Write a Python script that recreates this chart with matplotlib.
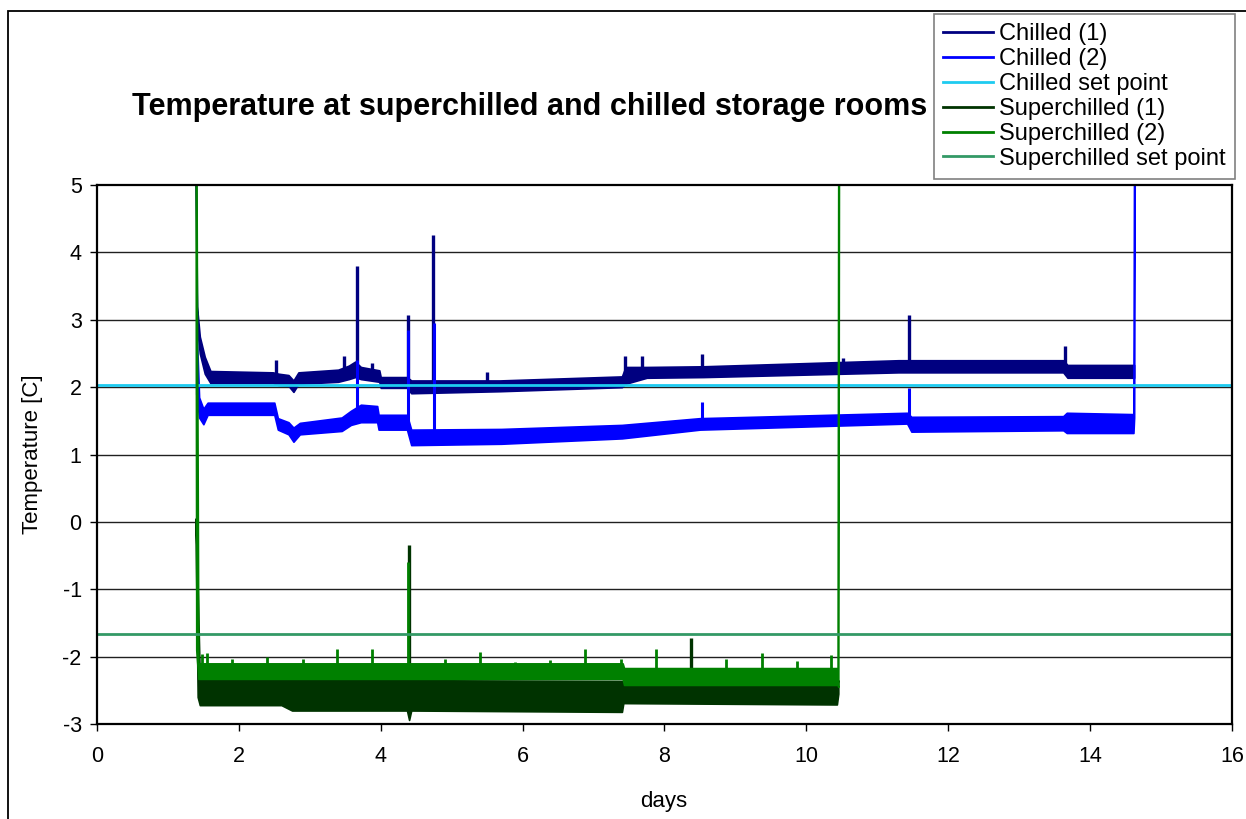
import matplotlib
matplotlib.use("Agg")
import matplotlib.pyplot as plt
from matplotlib.lines import Line2D
from matplotlib.patches import Rectangle

plt.rcParams['font.family'] = ['Liberation Sans', 'DejaVu Sans']
plt.rcParams['axes.unicode_minus'] = False

# Chilled (1): envelope of the logged band (day, low, high)
c1_days = [1.39, 1.41, 1.45, 1.52, 1.60, 2.48, 2.56, 2.70, 2.77, 2.84, 3.40, 3.55, 3.64,
           3.72, 3.98, 4.00, 4.37, 4.43, 5.68, 7.40, 7.45, 7.75, 8.55, 11.30, 13.62, 13.68, 14.62]
c1_low = [5.3, 2.9, 2.5, 2.2, 2.06, 2.06, 2.03, 2.02, 1.93, 2.05, 2.08, 2.12, 2.15,
          2.12, 2.08, 1.99, 1.99, 1.91, 1.94, 2.00, 2.05, 2.14, 2.15, 2.22, 2.22, 2.14, 2.14]
c1_high = [6.0, 3.2, 2.75, 2.45, 2.24, 2.22, 2.20, 2.18, 2.10, 2.22, 2.26, 2.32, 2.38,
           2.30, 2.25, 2.15, 2.15, 2.10, 2.10, 2.16, 2.30, 2.30, 2.31, 2.40, 2.40, 2.33, 2.33]
c1_spike_days = [2.52, 3.48, 3.67, 3.88, 4.39, 4.74, 5.50, 7.44, 7.68, 8.53, 10.52, 11.45, 13.65]
c1_spike_base = [2.10, 2.15, 2.20, 2.15, 2.05, 2.00, 2.00, 2.10, 2.15, 2.20, 2.25, 2.28, 2.25]
c1_spike_peaks = [2.40, 2.47, 3.80, 2.36, 3.07, 4.26, 2.22, 2.46, 2.46, 2.49, 2.44, 3.07, 2.61]

# Chilled (2)
c2_days = [1.40, 1.44, 1.50, 1.56, 2.50, 2.55, 2.70, 2.77, 2.86, 3.45, 3.58, 3.72, 3.95,
           3.97, 4.37, 4.43, 5.70, 7.40, 8.50, 11.42, 11.48, 13.62, 13.67, 14.61, 14.62, 14.63]
c2_low = [1.9, 1.55, 1.45, 1.59, 1.59, 1.37, 1.30, 1.19, 1.30, 1.35, 1.44, 1.48, 1.48,
          1.37, 1.37, 1.14, 1.16, 1.24, 1.37, 1.46, 1.34, 1.36, 1.32, 1.32, 1.55, 6.0]
c2_high = [3.0, 1.85, 1.68, 1.77, 1.77, 1.54, 1.48, 1.40, 1.47, 1.55, 1.65, 1.74, 1.72,
           1.59, 1.59, 1.37, 1.38, 1.44, 1.54, 1.62, 1.56, 1.57, 1.62, 1.60, 6.0, 6.0]
c2_spike_days = [3.66, 4.39, 4.75, 8.53, 11.45]
c2_spike_base = [1.50, 1.45, 1.25, 1.45, 1.50]
c2_spike_peaks = [2.40, 2.85, 2.95, 1.78, 1.99]

# Superchilled (1)
s1_days = [1.39, 1.42, 1.45, 2.60, 2.75, 4.37, 4.40, 4.43, 7.40, 7.42, 10.43, 10.45]
s1_low = [-0.10, -2.60, -2.72, -2.72, -2.80, -2.80, -2.94, -2.80, -2.82, -2.69, -2.71, -2.55]
s1_high = [0.05, -1.00, -2.33, -2.33, -2.35, -2.35, -2.35, -2.35, -2.36, -2.42, -2.43, -2.35]
s1_spike_days = [4.40, 8.37]
s1_spike_peaks = [-0.35, -1.73]

# Superchilled (2)
s2_days = [1.39, 1.40, 1.43, 7.41, 7.43, 10.44, 10.45, 10.46]
s2_low = [6.0, -1.90, -2.33, -2.33, -2.42, -2.42, -2.45, 6.0]
s2_high = [6.0, 6.0, -2.10, -2.10, -2.17, -2.17, 6.0, 6.0]
s2_spike_days = [1.48, 1.55, 1.90, 2.40, 2.90, 3.38, 3.88, 4.38, 4.90, 5.40, 5.89, 6.39,
                 6.88, 7.39, 7.88, 8.87, 9.37, 9.87, 10.35]
s2_spike_peaks = [-1.96, -1.95, -2.03, -2.00, -2.03, -1.88, -1.88, -0.60, -2.03, -1.93, -2.08,
                  -2.05, -1.88, -2.03, -1.88, -2.03, -1.95, -2.06, -1.98]

chilled_set = 2.03
superchilled_set = -1.67

labels = ['Chilled (1)', 'Chilled (2)', 'Chilled set point',
          'Superchilled (1)', 'Superchilled (2)', 'Superchilled set point']
colors = ['#000080', '#0000FF', '#1ECBF0', '#003300', '#008000', '#339966']

fig = plt.figure(figsize=(12.46, 8.19), dpi=100)
ax = fig.add_axes([0.0778, 0.116, 0.911, 0.658])

# grid
for v in range(-2, 5):
    ax.axhline(v, color='#202020', lw=1.0, zorder=1)

# chilled
ax.fill_between(c1_days, c1_low, c1_high, color=colors[0], lw=1.2, zorder=2)
ax.vlines(c1_spike_days, c1_spike_base, c1_spike_peaks, color=colors[0], lw=2.4, zorder=2)
ax.fill_between(c2_days, c2_low, c2_high, color=colors[1], lw=1.2, zorder=3)
ax.vlines(c2_spike_days, c2_spike_base, c2_spike_peaks, color=colors[1], lw=2.2, zorder=3)
ax.axhline(chilled_set, color=colors[2], lw=2, zorder=4)

# superchilled
ax.fill_between(s1_days, s1_low, s1_high, color=colors[3], lw=1.2, zorder=5)
ax.vlines(s1_spike_days, -2.5, s1_spike_peaks, color=colors[3], lw=2.4, zorder=5)
ax.fill_between(s2_days, s2_low, s2_high, color=colors[4], lw=1.2, zorder=6)
ax.vlines(s2_spike_days, -2.2, s2_spike_peaks, color=colors[4], lw=2.0, zorder=6)
ax.axhline(superchilled_set, color=colors[5], lw=2, zorder=7)

ax.set_xlim(0, 16)
ax.set_ylim(-3, 5)
ax.set_xticks(range(0, 17, 2))
ax.set_yticks(range(-3, 6))
ax.tick_params(direction='out', length=5, width=1, labelsize=15.5)
ax.tick_params(axis='x', pad=11)
ax.tick_params(axis='y', pad=6)
for s in ax.spines.values():
    s.set_linewidth(1.6)
    s.set_zorder(10)

fig.text(0.4254, 0.869, 'Temperature at superchilled and chilled storage rooms',
         ha='center', va='center', fontsize=22, fontweight='bold')
fig.text(33 / 1246, 0.4457, 'Temperature [C]', rotation=90, ha='center', va='center', fontsize=16)
fig.text(664 / 1246, 1 - 801 / 819, 'days', ha='center', va='center', fontsize=16)

handles = [Line2D([], [], color=c, lw=2) for c in colors]
leg = fig.legend(handles, labels, loc='upper left', bbox_to_anchor=(934 / 1246, 1 - 14 / 819),
                 fontsize=17, frameon=True, fancybox=False, framealpha=1, edgecolor='#808080',
                 borderpad=0.4, labelspacing=0.12, handlelength=2.1, handletextpad=0.25,
                 borderaxespad=0)
leg.get_frame().set_linewidth(1.2)

# outer frame of the chart area
fig.patches.append(Rectangle((8 / 1246, -0.1), 2, 1 - 11 / 819 + 0.1, transform=fig.transFigure,
                             fill=False, edgecolor='black', lw=1.3))

fig.savefig('out.png', dpi=100)
